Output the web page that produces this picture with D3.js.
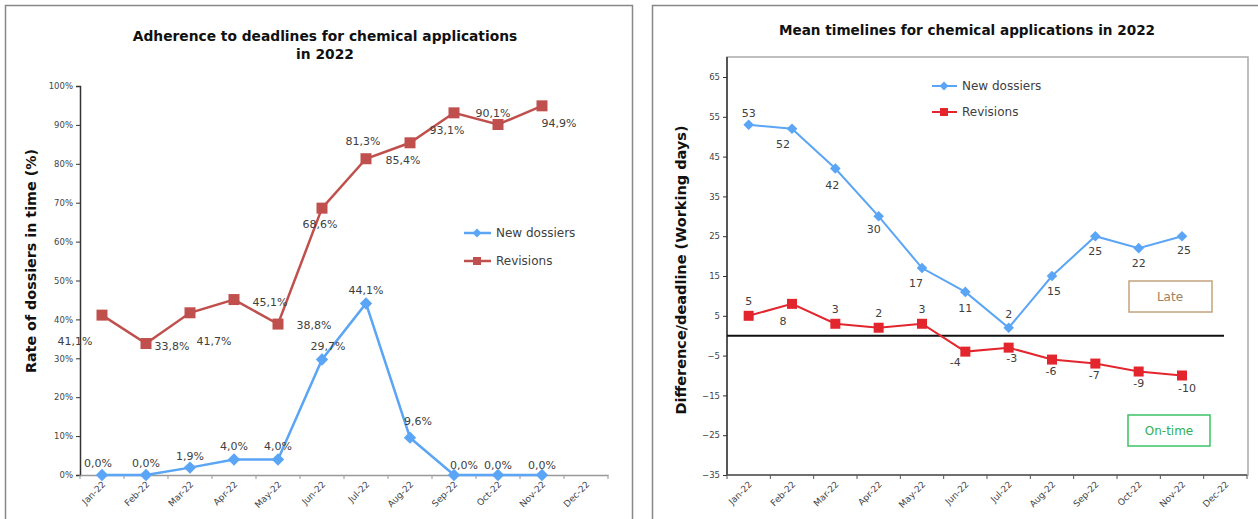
<!DOCTYPE html>
<html>
<head>
<meta charset="utf-8">
<script src="https://cdn.jsdelivr.net/npm/d3@7"></script>
<style>
body { margin: 0; background: #fff; }
text { font-family: "DejaVu Sans", Verdana, sans-serif; }
</style>
</head>
<body>
<div id="vis"></div>
<script>
var months = ["Jan-22","Feb-22","Mar-22","Apr-22","May-22","Jun-22","Jul-22","Aug-22","Sep-22","Oct-22","Nov-22","Dec-22"]

// left chart: rate in time (%)
var rateNew = [0.0, 0.0, 1.9, 4.0, 4.0, 29.7, 44.1, 9.6, 0.0, 0.0, 0.0]
var rateRev = [41.1, 33.8, 41.7, 45.1, 38.8, 68.6, 81.3, 85.4, 93.1, 90.1, 94.9]
var rateTicks = [0,10,20,30,40,50,60,70,80,90,100]

// right chart: difference to deadline (working days)
var daysNew = [53, 52, 42, 30, 17, 11, 2, 15, 25, 22, 25]
var daysRev = [5, 8, 3, 2, 3, -4, -3, -6, -7, -9, -10]
var dayTicks = [-35,-25,-15,-5,5,15,25,35,45,55,65]

// label placement offsets [dx, dy]
var rateNewLab = [[-4,-8],[0,-8],[0,-8],[0,-9],[0,-9],[6,-9],[0,-9],[8,-13],[10,-6],[0,-6],[0,-6]]
var rateRevLab = [[-27,30],[26,6],[24,32],[36,6],[36,5],[-2,20],[-3,-14],[-7,21],[-7,21],[-5,-8],[17,21]]
var daysNewLab = [[0,-8],[-9,19],[-3,20],[-5,17],[-6,19],[0,20],[0,-10],[2,19],[0,19],[0,19],[2,18]]
var daysRevLab = [[0,-11],[-9,21],[0,-11],[0,-11],[0,-11],[-10,14],[3,14],[-1,15],[-1,15],[0,15],[5,16]]

var blue = "#5aa5f5"
var darkRed = "#c0504d"
var red = "#e3262e"
var labCol = "#404040"

var svg = d3.select("#vis").append("svg")
    .attr("width", 1258)
    .attr("height", 519)

// chart frames
svg.append("rect").attr("x", 5.5).attr("y", 5.5).attr("width", 627).attr("height", 530)
    .attr("fill", "none").attr("stroke", "#888").attr("stroke-width", 1.5)
svg.append("rect").attr("x", 652.5).attr("y", 5.5).attr("width", 620).attr("height", 530)
    .attr("fill", "none").attr("stroke", "#888").attr("stroke-width", 1.5)

function diamond(g, x, y, col, r){
    g.append("path").attr("d", d3.symbol().type(d3.symbolDiamond2).size(r*r*2)())
        .attr("transform", "translate(" + x + "," + y + ")").attr("fill", col)
}
function square(g, x, y, col, s){
    g.append("rect").attr("x", x - s/2).attr("y", y - s/2).attr("width", s).attr("height", s).attr("fill", col)
}

/* ---------------- left chart ---------------- */
var L = svg.append("g")
var xL = d3.scaleBand().domain(months).range([80, 608])
var yL = d3.scaleLinear().domain([0, 100]).range([475, 86])

L.append("text").attr("x", 325).attr("y", 41).attr("text-anchor", "middle")
    .attr("font-size", 13.8).attr("font-weight", "bold").attr("fill", "#111")
    .text("Adherence to deadlines for chemical applications")
L.append("text").attr("x", 325).attr("y", 59).attr("text-anchor", "middle")
    .attr("font-size", 13.8).attr("font-weight", "bold").attr("fill", "#111")
    .text("in 2022")
L.append("text").attr("transform", "translate(36,261) rotate(-90)").attr("text-anchor", "middle")
    .attr("font-size", 14.3).attr("font-weight", "bold").attr("fill", "#111")
    .text("Rate of dossiers in time (%)")

var yAxL = L.append("g").attr("transform", "translate(80,0)")
    .call(d3.axisLeft(yL).tickValues(rateTicks).tickSize(4).tickFormat(function(d){ return d + "%" }))
yAxL.select(".domain").attr("stroke", "#333").attr("stroke-width", 1.5)
yAxL.selectAll(".tick line").attr("stroke", "#333")
yAxL.selectAll(".tick text").attr("font-size", 8.5).attr("fill", "#444").attr("font-family", "DejaVu Sans")

var xAxL = L.append("g").attr("transform", "translate(0,475)")
    .call(d3.axisBottom(xL).tickSize(0).tickFormat(""))
xAxL.select(".domain").attr("stroke", "#999").attr("stroke-width", 1.5)
L.selectAll(".xtL").data(d3.range(13)).enter().append("line")
    .attr("x1", function(d){ return 80 + d * xL.step() }).attr("x2", function(d){ return 80 + d * xL.step() })
    .attr("y1", 475).attr("y2", 479).attr("stroke", "#999")
L.selectAll(".xlL").data(months).enter().append("text")
    .attr("transform", function(d){ return "translate(" + (xL(d) + xL.bandwidth()/2 + 4) + ",485) rotate(-45)" })
    .attr("text-anchor", "end").attr("font-size", 9).attr("fill", "#444")
    .text(function(d){ return d })

var lineL = d3.line().x(function(d, i){ return xL(months[i]) + xL.bandwidth()/2 }).y(function(d){ return yL(d) })

L.append("path").attr("d", lineL(rateRev)).attr("fill", "none").attr("stroke", darkRed).attr("stroke-width", 2.5)
L.append("path").attr("d", lineL(rateNew)).attr("fill", "none").attr("stroke", blue).attr("stroke-width", 2.5)

rateRev.forEach(function(v, i){
    var x = xL(months[i]) + xL.bandwidth()/2, y = yL(v)
    square(L, x, y, darkRed, 11)
    L.append("text").attr("x", x + rateRevLab[i][0]).attr("y", y + rateRevLab[i][1]).attr("text-anchor", "middle")
        .attr("font-size", 11).attr("fill", labCol).text(v.toFixed(1).replace(".", ",") + "%")
})
rateNew.forEach(function(v, i){
    var x = xL(months[i]) + xL.bandwidth()/2, y = yL(v)
    diamond(L, x, y, blue, 7)
    L.append("text").attr("x", x + rateNewLab[i][0]).attr("y", y + rateNewLab[i][1]).attr("text-anchor", "middle")
        .attr("font-size", 11).attr("fill", labCol).text(v.toFixed(1).replace(".", ",") + "%")
})

// legend left
L.append("line").attr("x1", 464).attr("x2", 491).attr("y1", 233).attr("y2", 233).attr("stroke", blue).attr("stroke-width", 2.5)
diamond(L, 477, 233, blue, 5)
L.append("text").attr("x", 496).attr("y", 237).attr("font-size", 12).attr("fill", labCol).text("New dossiers")
L.append("line").attr("x1", 464).attr("x2", 491).attr("y1", 261).attr("y2", 261).attr("stroke", darkRed).attr("stroke-width", 2.5)
square(L, 477, 261, darkRed, 8)
L.append("text").attr("x", 496).attr("y", 265).attr("font-size", 12).attr("fill", labCol).text("Revisions")

/* ---------------- right chart ---------------- */
var R = svg.append("g")
var xR = d3.scaleBand().domain(months).range([727, 1247])
var yR = d3.scaleLinear().domain([-35, 65]).range([475, 77])

R.append("rect").attr("x", 727).attr("y", 57).attr("width", 521).attr("height", 418)
    .attr("fill", "none").attr("stroke", "#aaa").attr("stroke-width", 1.5)

R.append("text").attr("x", 967).attr("y", 35).attr("text-anchor", "middle")
    .attr("font-size", 13.6).attr("font-weight", "bold").attr("fill", "#111")
    .text("Mean timelines for chemical applications in 2022")
R.append("text").attr("transform", "translate(686,270) rotate(-90)").attr("text-anchor", "middle")
    .attr("font-size", 14.5).attr("font-weight", "bold").attr("fill", "#111")
    .text("Difference/deadline (Working days)")

var yAxR = R.append("g").attr("transform", "translate(727,0)")
    .call(d3.axisLeft(yR).tickValues(dayTicks).tickSize(4))
yAxR.select(".domain").remove()
R.append("line").attr("x1", 727).attr("x2", 727).attr("y1", 57).attr("y2", 475).attr("stroke", "#333").attr("stroke-width", 1.5)
yAxR.selectAll(".tick line").attr("stroke", "#333")
yAxR.selectAll(".tick text").attr("font-size", 8.5).attr("fill", "#444").attr("font-family", "DejaVu Sans")

R.append("line").attr("x1", 727).attr("x2", 1247).attr("y1", 475).attr("y2", 475).attr("stroke", "#555").attr("stroke-width", 1.5)
R.selectAll(".xtR").data(d3.range(13)).enter().append("line")
    .attr("x1", function(d){ return 727 + d * xR.step() }).attr("x2", function(d){ return 727 + d * xR.step() })
    .attr("y1", 475).attr("y2", 479).attr("stroke", "#555")
R.selectAll(".xlR").data(months).enter().append("text")
    .attr("transform", function(d){ return "translate(" + (xR(d) + xR.bandwidth()/2 + 4) + ",485) rotate(-45)" })
    .attr("text-anchor", "end").attr("font-size", 9).attr("fill", "#444")
    .text(function(d){ return d })

// zero line
R.append("line").attr("x1", 727).attr("x2", 1224).attr("y1", yR(0)).attr("y2", yR(0)).attr("stroke", "#111").attr("stroke-width", 2)

var lineR = d3.line().x(function(d, i){ return xR(months[i]) + xR.bandwidth()/2 }).y(function(d){ return yR(d) })
R.append("path").attr("d", lineR(daysNew)).attr("fill", "none").attr("stroke", blue).attr("stroke-width", 2)
R.append("path").attr("d", lineR(daysRev)).attr("fill", "none").attr("stroke", red).attr("stroke-width", 2)

daysNew.forEach(function(v, i){
    var x = xR(months[i]) + xR.bandwidth()/2, y = yR(v)
    diamond(R, x, y, blue, 6)
    R.append("text").attr("x", x + daysNewLab[i][0]).attr("y", y + daysNewLab[i][1]).attr("text-anchor", "middle")
        .attr("font-size", 11).attr("fill", labCol).text(v)
})
daysRev.forEach(function(v, i){
    var x = xR(months[i]) + xR.bandwidth()/2, y = yR(v)
    square(R, x, y, red, 10)
    R.append("text").attr("x", x + daysRevLab[i][0]).attr("y", y + daysRevLab[i][1]).attr("text-anchor", "middle")
        .attr("font-size", 11).attr("fill", labCol).text(v)
})

// legend right
R.append("line").attr("x1", 932).attr("x2", 957).attr("y1", 86).attr("y2", 86).attr("stroke", blue).attr("stroke-width", 2)
diamond(R, 944, 86, blue, 5)
R.append("text").attr("x", 962).attr("y", 90).attr("font-size", 12).attr("fill", labCol).text("New dossiers")
R.append("line").attr("x1", 932).attr("x2", 957).attr("y1", 112).attr("y2", 112).attr("stroke", red).attr("stroke-width", 2)
square(R, 944, 112, red, 8)
R.append("text").attr("x", 962).attr("y", 116).attr("font-size", 12).attr("fill", labCol).text("Revisions")

// Late / On-time boxes
R.append("rect").attr("x", 1129).attr("y", 281).attr("width", 83).attr("height", 31)
    .attr("fill", "#fff").attr("stroke", "#c4a27e").attr("stroke-width", 1.5)
R.append("text").attr("x", 1170).attr("y", 301).attr("text-anchor", "middle").attr("font-size", 12)
    .attr("fill", "#a3805e").text("Late")
R.append("rect").attr("x", 1128).attr("y", 415).attr("width", 82).attr("height", 31)
    .attr("fill", "#fff").attr("stroke", "#3cc264").attr("stroke-width", 1.5)
R.append("text").attr("x", 1169).attr("y", 435).attr("text-anchor", "middle").attr("font-size", 12)
    .attr("fill", "#2fae55").text("On-time")
</script>
</body>
</html>
